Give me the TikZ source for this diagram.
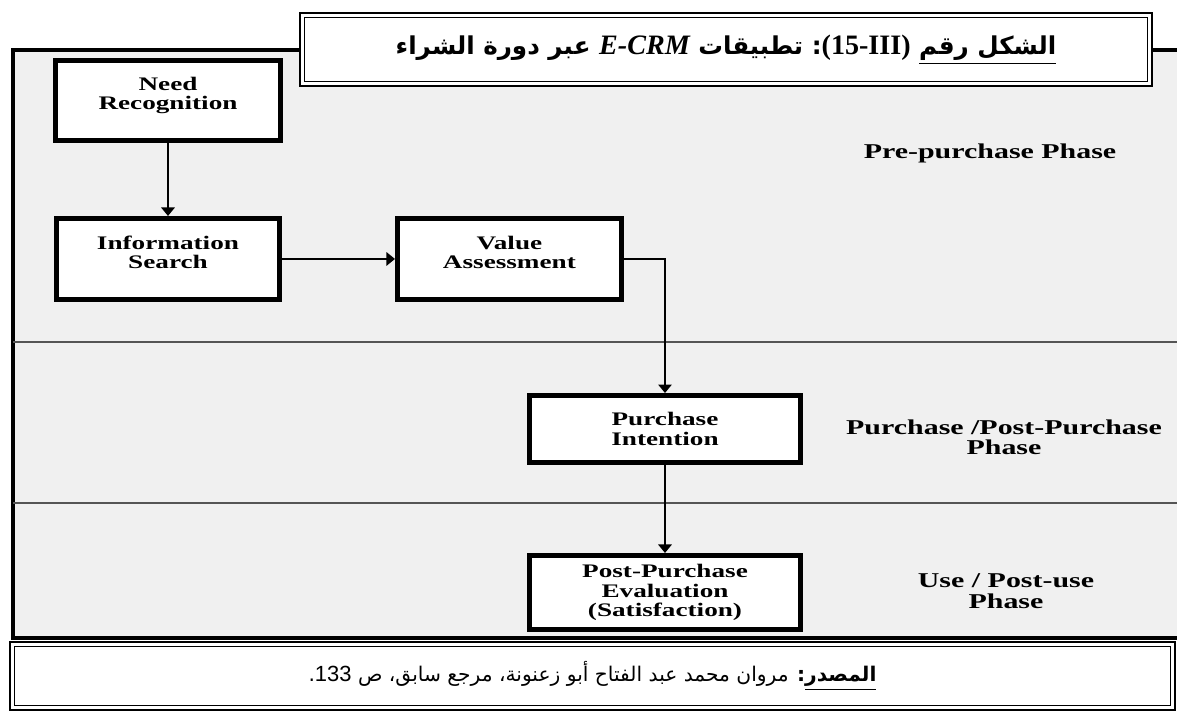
\documentclass[tikz,border=0pt]{standalone}
\usepackage{fontspec}
\setmainfont{Liberation Serif}
\newfontfamily\stagefont[FakeStretch=1.42]{Liberation Serif}
\newfontfamily\arabicfont[Script=Arabic]{DejaVu Sans}
\newfontfamily\numfont{Liberation Sans}
\TeXXeTstate=1
\usetikzlibrary{arrows.meta,positioning}
\usepackage{xcolor}
\definecolor{panelgray}{RGB}{240,240,240}
\definecolor{bandline}{RGB}{85,85,85}
\tikzset{
  stage/.style={rectangle, draw=black, line width=0.1cm, fill=white, align=center,
    font=\stagefont\bfseries\fontsize{10.9}{10.9}\selectfont, inner sep=2pt},
  phaselbl/.style={align=center, font=\stagefont\bfseries\fontsize{12}{11.6}\selectfont},
  capbox/.style={rectangle, draw=black, line width=0.03cm, double=white,
    double distance=0.06cm, fill=white, align=center},
  band/.style={bandline, line width=0.028cm},
  myarrow/.style={-{Triangle[length=0.17cm,width=0.27cm]}, line width=0.03cm},
}
% latin pieces inside the arabic caption
\newcommand{\latin}[1]{\beginL{\rmfamily\bfseries\fontsize{16}{18}\selectfont #1}\endL}

\begin{document}
\begin{tikzpicture}[x=0.02cm, y=-0.02cm]
\useasboundingbox (0,0) rectangle (1177,713);
\clip (0,0) rectangle (1177,713);

% grey panel with the three phase bands
\draw[line width=0.09cm, fill=panelgray] (13,50) rectangle (1200,638);
\draw[band] (13,342) -- (1177,342);
\draw[band] (13,503) -- (1177,503);

\node[stage, minimum width=4.5cm, minimum height=1.6cm] (A) at (168,100.5) {Need\\Recognition\\[-3pt]\mbox{}};
\node[stage, minimum width=4.46cm, minimum height=1.62cm, below=1.46cm of A] (B) {Information\\Search\\[-3pt]\mbox{}};
\node[stage, minimum width=4.48cm, minimum height=1.62cm, right=2.26cm of B] (C) {Value\\Assessment\\[-3pt]\mbox{}};
\node[stage, minimum width=5.42cm, minimum height=1.34cm] (D) at (665,429) {Purchase\\Intention};
\node[stage, minimum width=5.42cm, minimum height=1.48cm, below=1.76cm of D] (E) {Post-Purchase\\Evaluation\\(Satisfaction)};

\node[phaselbl] (P1) at (990,153) {Pre-purchase Phase};
\node[phaselbl] (P2) at (1004,437) {Purchase /Post-Purchase\\Phase};
\node[phaselbl] (P3) at (1006,591) {Use / Post-use\\Phase};

\draw[myarrow] (A) -- (B);
\draw[myarrow] (B) -- (C);
\draw[myarrow] (C) -| (D);
\draw[myarrow] (D) -- (E);

\node[capbox, minimum width=16.96cm, minimum height=1.38cm] (T) at (726,49.5)
  {\arabicfont\bfseries\fontsize{14}{18}\selectfont\beginR\underline{\beginR الشكل رقم\endR}
   \latin{(15-III)}: تطبيقات \latin{\itshape E-CRM}{} عبر دورة الشراء\endR};
\node[capbox, minimum width=23.22cm, minimum height=1.28cm] (S) at (592.5,676)
  {\arabicfont\fontsize{11.5}{13}\selectfont\beginR\underline{\textbf{المصدر}}\textbf{:}
   مروان محمد عبد الفتاح أبو زعنونة، مرجع سابق، ص \beginL{\numfont\fontsize{12.5}{13}\selectfont 133}\endL.\endR};

\end{tikzpicture}
\end{document}
